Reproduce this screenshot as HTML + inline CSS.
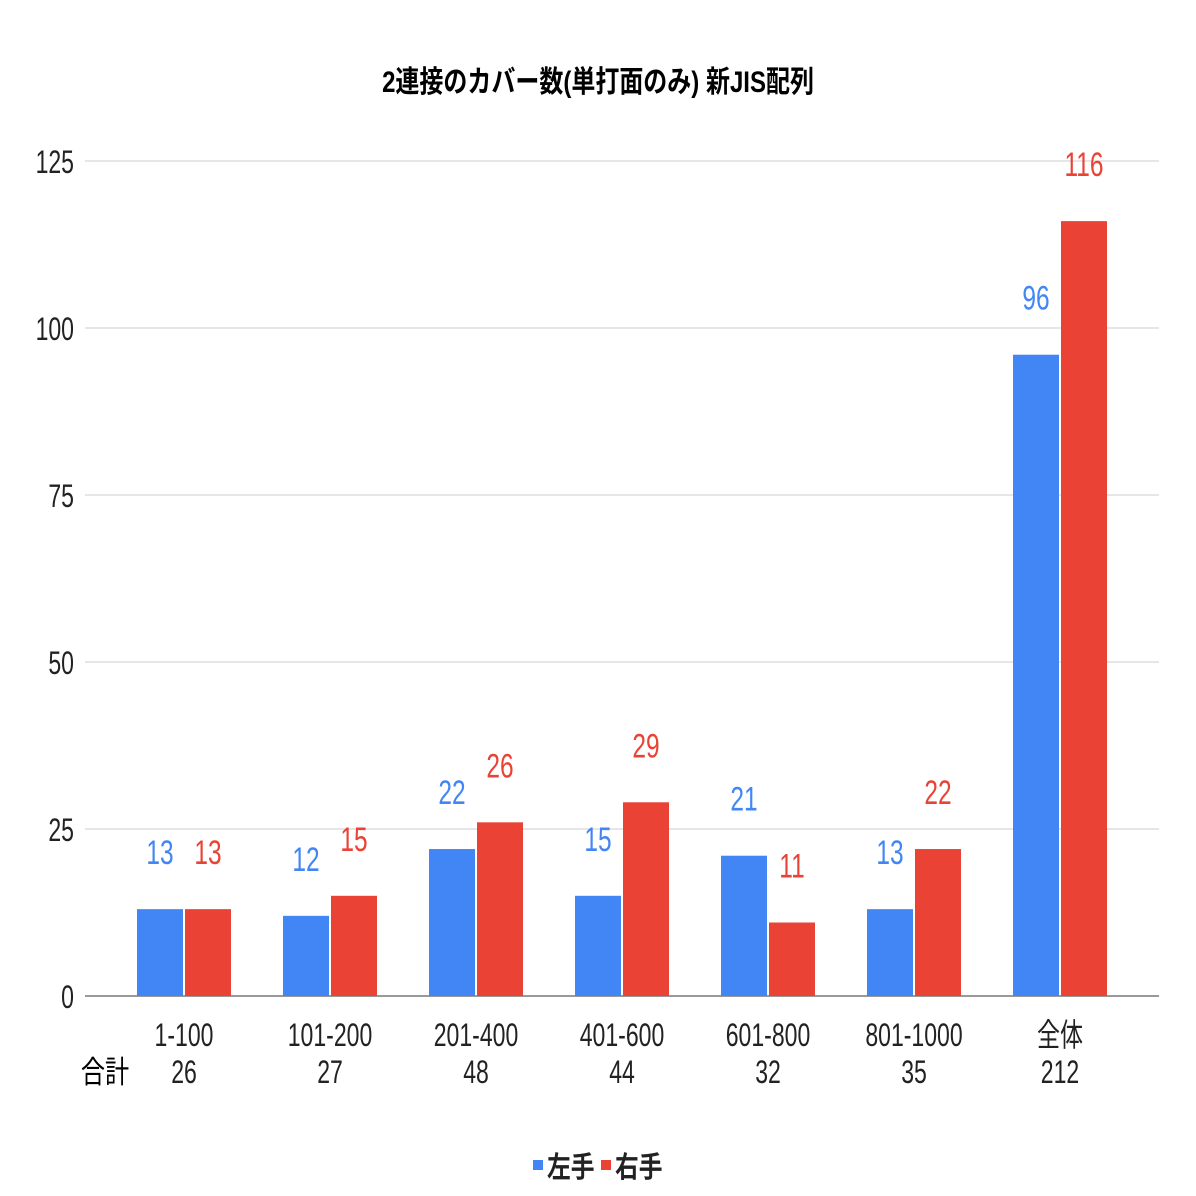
<!DOCTYPE html>
<html><head><meta charset="utf-8"><style>
html,body{margin:0;padding:0;background:#fff;}
svg{display:block;font-family:"Liberation Sans","Noto Sans CJK JP",sans-serif;}
</style></head><body>
<svg id="chart" width="1196" height="1196" viewBox="0 0 1196 1196" xmlns="http://www.w3.org/2000/svg">
<rect width="1196" height="1196" fill="#fff"/>
<text transform="translate(598,92) scale(0.8,1)" text-anchor="middle" font-size="30" font-weight="bold" fill="#000">2連接のカバー数(単打面のみ) 新JIS配列</text>
<g id="grid"></g><g id="bars"></g><g id="labels"></g>
<text transform="translate(105,1083) scale(0.78,1)" text-anchor="middle" font-size="31" fill="#000">合計</text>
<g>
<rect x="533" y="1160" width="10" height="10" fill="#4285f4"/>
<text transform="translate(547,1177) scale(0.82,1)" font-size="29" font-weight="bold" fill="#222">左手</text>
<rect x="601" y="1160" width="10" height="10" fill="#ea4335"/>
<text transform="translate(615,1177) scale(0.82,1)" font-size="29" font-weight="bold" fill="#222">右手</text>
</g>
</svg>
<script>
const categories=["1-100","101-200","201-400","401-600","601-800","801-1000","全体"];
const totals=["26","27","48","44","32","35","212"];
const leftVals=[13,12,22,15,21,13,96];
const rightVals=[13,15,26,29,11,22,116];
const yTicks=[0,25,50,75,100,125];
const NS="http://www.w3.org/2000/svg";
const y0=996,yTop=161,yMax=125;
function yS(v){return y0-(y0-yTop)*v/yMax;}
function xC(i){return 184+i*146;}
function mk(t,a,p){const e=document.createElementNS(NS,t);for(const k in a)e.setAttribute(k,a[k]);p.appendChild(e);return e;}
const grid=document.getElementById('grid'),bars=document.getElementById('bars'),labels=document.getElementById('labels');
yTicks.forEach(v=>{
 const l=mk('line',{x1:85,x2:1159,y1:yS(v),y2:yS(v),stroke:v===0?'#333':'#ccc','stroke-width':1},grid);
 
 
 const t=mk('text',{transform:`translate(74,${yS(v)+12}) scale(0.72,1)`,'text-anchor':'end','font-size':32,fill:'#222'},grid);
 t.textContent=v;
 
 
});
categories.forEach((c,i)=>{
 const cx=xC(i);
 [[leftVals[i],'#4285f4',cx-47],[rightVals[i],'#ea4335',cx+1]].forEach(([v,col,x],k)=>{
  const r=mk('rect',{x:x,y:yS(v),width:46,height:y0-yS(v),fill:col},bars);
  
  
  const t=mk('text',{transform:`translate(${x+23},${yS(v)-45}) scale(0.72,1)`,'text-anchor':'middle','font-size':34,fill:col},labels);
  t.textContent=v;
  
  
 });
 const a=mk('text',{transform:`translate(${cx},${1046}) scale(0.72,1)`,'text-anchor':'middle','font-size':32,fill:'#222'},labels);
 a.textContent=c;
 
 
 const b=mk('text',{transform:`translate(${cx},${1083}) scale(0.72,1)`,'text-anchor':'middle','font-size':32,fill:'#222'},labels);
 b.textContent=totals[i];
 
 
});
</script>
</body></html>
